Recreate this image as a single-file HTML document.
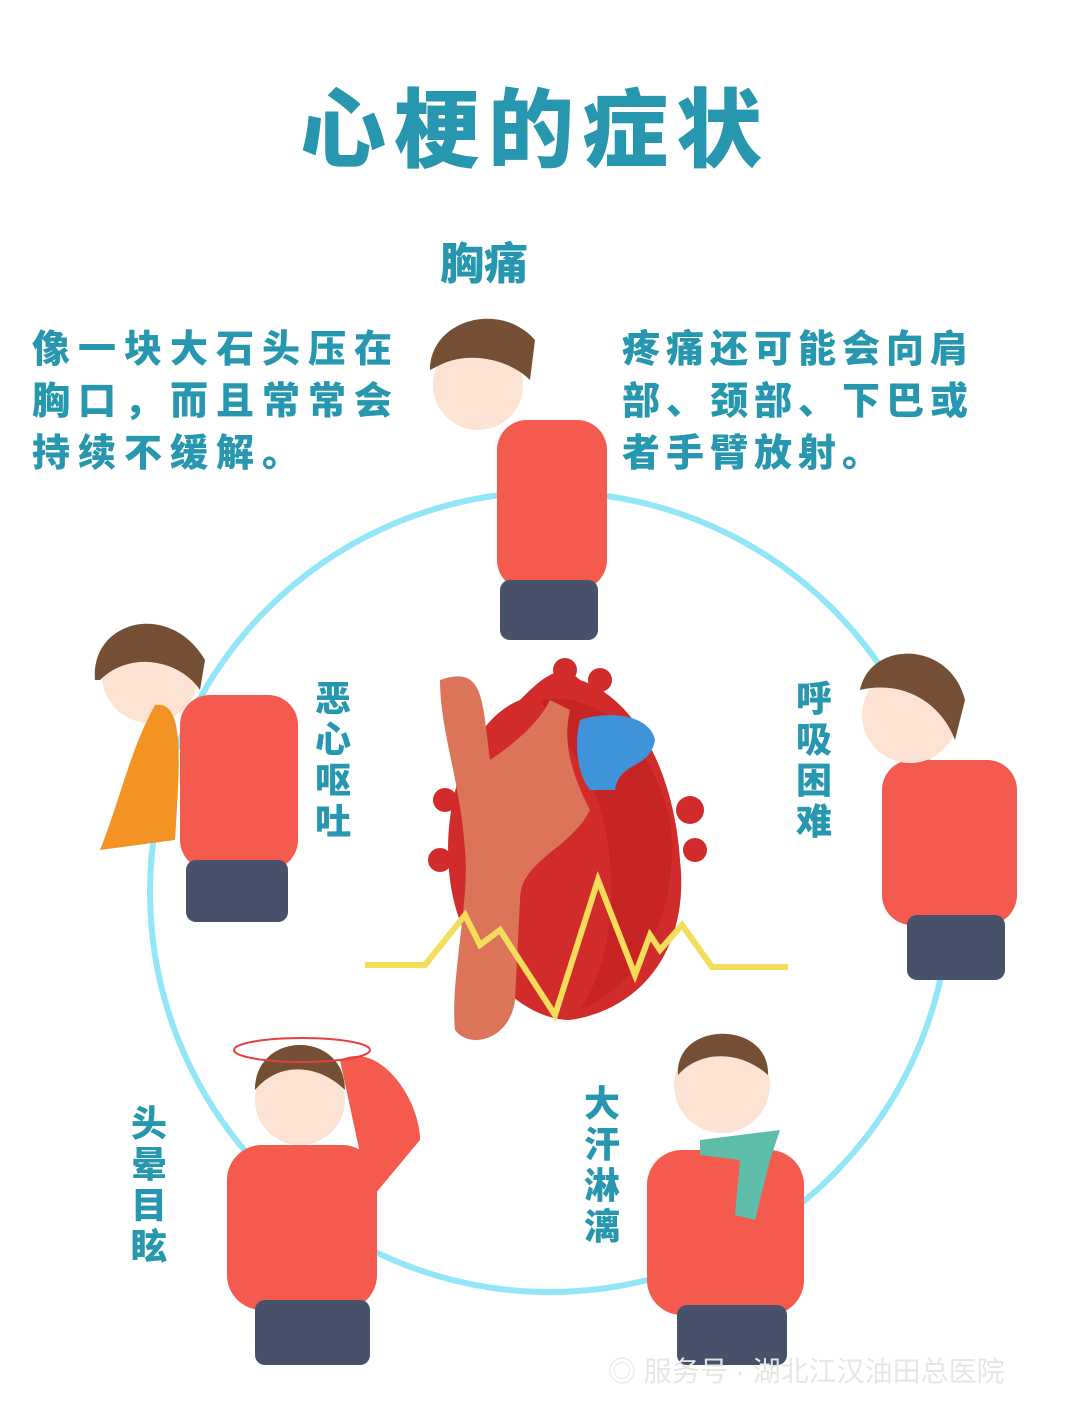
<!DOCTYPE html>
<html><head><meta charset="utf-8"><style>
body{margin:0;background:#fff;}
.w{position:relative;width:1080px;height:1412px;overflow:hidden;background:#fff;font-family:"Liberation Sans","Noto Sans CJK SC",sans-serif;color:#2697ae;}
.t{position:absolute;font-weight:900;}
.v{position:absolute;font-weight:900;font-size:36px;line-height:41px;width:40px;text-align:center;}
</style></head><body><div class="w">
<svg width="1080" height="1412" style="position:absolute;left:0;top:0">
<circle cx="550" cy="892" r="400" fill="none" stroke="#93e6f7" stroke-width="6"/>
<path d="M520 700 C470 720 440 800 450 880 C460 960 520 1020 570 1020 C640 1010 690 950 680 860 C675 780 640 700 580 680 C560 660 540 680 520 700Z" fill="#d12b2b"/>
<path d="M540 700 C600 690 650 740 670 820 C680 900 650 980 580 1010 C620 950 620 850 590 780Z" fill="#c62424"/>
<path d="M440 680 C470 670 480 680 485 720 L490 760 C520 740 540 720 550 700 L570 710 C560 750 580 790 590 810 C570 850 520 860 520 900 L515 1000 C510 1040 470 1050 455 1030 C450 980 470 900 465 850 C460 780 440 730 440 680Z" fill="#dc745a"/>
<path d="M580 720 C610 710 650 715 655 740 C650 770 620 760 615 790 L590 790 C575 770 575 740 580 720Z" fill="#3f94d9"/>
<circle cx="445" cy="800" r="12" fill="#d12b2b"/><circle cx="440" cy="860" r="12" fill="#d12b2b"/>
<circle cx="690" cy="810" r="14" fill="#d12b2b"/><circle cx="695" cy="850" r="12" fill="#d12b2b"/>
<circle cx="565" cy="670" r="12" fill="#d12b2b"/><circle cx="600" cy="680" r="12" fill="#d12b2b"/>
<polyline points="365,965 425,965 465,915 480,945 500,930 555,1015 598,880 635,975 650,935 660,950 682,925 712,967 788,967" fill="none" stroke="#f3dd5a" stroke-width="6"/>
<g>
<rect x="497" y="420" width="110" height="170" rx="30" fill="#f45a4e"/>
<rect x="500" y="580" width="98" height="60" rx="10" fill="#47526a"/>
<circle cx="478" cy="385" r="45" fill="#fde3d3"/>
<path d="M430 370 C430 320 500 300 535 340 L530 380 C510 360 470 350 440 365Z" fill="#754f33"/>
</g>
<g>
<rect x="180" y="695" width="118" height="175" rx="30" fill="#f45a4e"/>
<rect x="186" y="860" width="102" height="62" rx="10" fill="#47526a"/>
<circle cx="150" cy="675" r="48" fill="#fde3d3"/>
<path d="M95 680 C90 620 170 600 205 660 L200 690 C180 660 130 650 100 680Z" fill="#754f33"/>
<path d="M155 705 C185 700 180 760 175 840 L100 850 C120 800 130 750 155 705Z" fill="#f39324"/>
</g>
<g>
<rect x="882" y="760" width="135" height="165" rx="30" fill="#f45a4e"/>
<rect x="907" y="915" width="98" height="65" rx="10" fill="#47526a"/>
<circle cx="910" cy="715" r="48" fill="#fde3d3"/>
<path d="M860 690 C870 640 950 640 965 700 L955 740 C940 700 900 680 860 690Z" fill="#754f33"/>
</g>
<g>
<rect x="227" y="1145" width="150" height="165" rx="35" fill="#f45a4e"/>
<path d="M340 1060 C380 1040 420 1100 420 1140 L370 1200 Z" fill="#f45a4e"/>
<rect x="255" y="1300" width="115" height="65" rx="10" fill="#47526a"/>
<circle cx="300" cy="1100" r="45" fill="#fde3d3"/>
<path d="M255 1090 C255 1030 345 1030 345 1090 C320 1065 280 1060 255 1090Z" fill="#754f33"/>
<ellipse cx="302" cy="1050" rx="68" ry="12" fill="none" stroke="#e04040" stroke-width="2"/>
</g>
<g>
<rect x="647" y="1150" width="157" height="165" rx="35" fill="#f45a4e"/>
<rect x="677" y="1305" width="110" height="60" rx="10" fill="#47526a"/>
<circle cx="722" cy="1085" r="48" fill="#fde3d3"/>
<path d="M678 1075 C675 1020 770 1020 768 1075 C740 1050 700 1050 678 1075Z" fill="#754f33"/>
<path d="M700 1140 L780 1130 L770 1160 L755 1220 L735 1215 L740 1160 L700 1155Z" fill="#5dbda8"/>
</g>
</svg>
<div class="t" style="left:300px;top:60px;font-size:86px;letter-spacing:8px;">心梗的症状</div>
<div class="t" style="left:440px;top:228px;font-size:44px;">胸痛</div>
<div class="t" style="left:32px;top:324px;font-size:38px;line-height:52px;letter-spacing:8px;width:400px;">像一块大石头压在<br>胸口，而且常常会<br>持续不缓解。</div>
<div class="t" style="left:622px;top:324px;font-size:38px;line-height:52px;letter-spacing:6px;width:400px;">疼痛还可能会向肩<br>部、颈部、下巴或<br>者手臂放射。</div>
<div class="v" style="left:313px;top:678px;">恶心呕吐</div>
<div class="v" style="left:794px;top:678px;">呼吸困难</div>
<div class="v" style="left:582px;top:1083px;">大汗淋漓</div>
<div class="v" style="left:129px;top:1103px;">头晕目眩</div>
<div style="position:absolute;left:608px;top:1350px;font-size:28px;color:#e6e6e6;">◎ 服务号 · 湖北江汉油田总医院</div>
</div></body></html>
